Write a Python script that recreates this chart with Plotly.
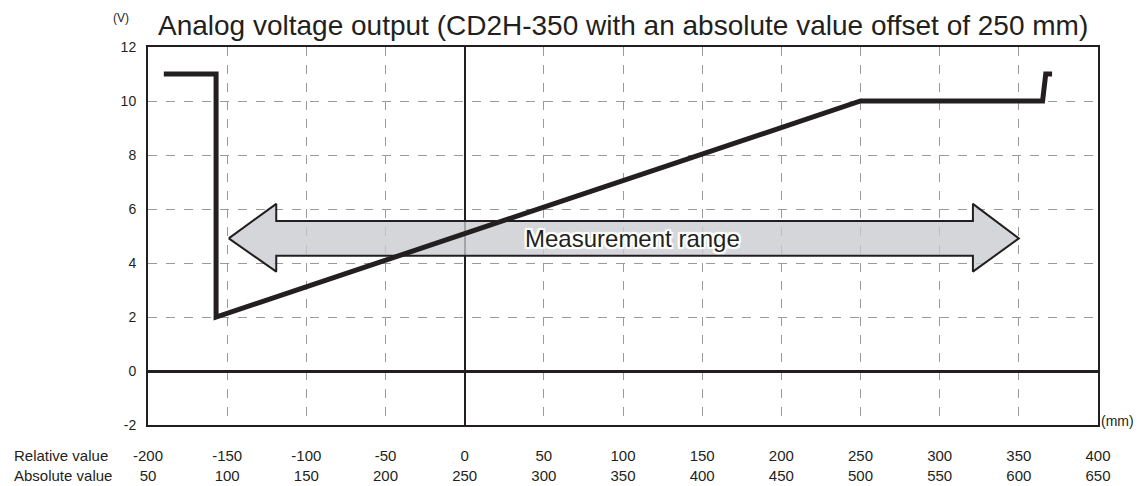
import plotly.graph_objects as go

# Data
line_x = [-190, -157, -157, 250, 365, 367, 371]
line_y = [11, 11, 2, 10, 10, 11, 11]

arrow_x = [-149, -119, -119, 321, 321, 350, 321, 321, -119, -119, -149]
arrow_y = [4.91, 6.19, 5.56, 5.56, 6.19, 4.91, 3.68, 4.27, 4.27, 3.68, 4.91]

rel_ticks = [-200, -150, -100, -50, 0, 50, 100, 150, 200, 250, 300, 350, 400]
abs_ticks = [50, 100, 150, 200, 250, 300, 350, 400, 450, 500, 550, 600, 650]
y_ticks = [-2, 0, 2, 4, 6, 8, 10, 12]

title_text = "Analog voltage output (CD2H-350 with an absolute value offset of 250 mm)"
DARK = "#231f20"
FONT = "Liberation Sans, Arial, sans-serif"

fig = go.Figure()
fig.add_trace(go.Scatter(x=arrow_x, y=arrow_y, mode="lines", fill="toself",
                         fillcolor="rgba(200,202,206,0.78)",
                         line=dict(color=DARK, width=2), hoverinfo="skip"))
fig.add_trace(go.Scatter(x=line_x, y=line_y, mode="lines",
                         line=dict(color=DARK, width=5), hoverinfo="skip"))

fig.add_annotation(x=106, y=4.91, text="Measurement range", showarrow=False,
                   font=dict(size=24, color=DARK, family=FONT,
                             shadow="2px 2px 1px white, -2px -2px 1px white, 2px -2px 1px white, -2px 2px 1px white, 0 2px 1px white, 0 -2px 1px white, 2px 0 1px white, -2px 0 1px white"))

# page body has an 8px margin at top/left, so the figure is 8px smaller on each axis
fig.update_layout(
    width=1137, height=478,
    margin=dict(l=140, r=47, t=39, b=61),
    plot_bgcolor="white", paper_bgcolor="white",
    showlegend=False,
    font=dict(family=FONT, color=DARK, size=15),
)
fig.update_xaxes(
    range=[-200, 400], tickmode="array", tickvals=rel_ticks,
    ticktext=[f"{r}<br>{a}" for r, a in zip(rel_ticks, abs_ticks)],
    showgrid=True, gridcolor="#9a9a9a", griddash="dash", gridwidth=1,
    zeroline=True, zerolinecolor=DARK, zerolinewidth=2,
    showline=True, linecolor=DARK, linewidth=2, mirror=True,
    ticks="", ticklabelstandoff=16, tickfont=dict(size=15, color=DARK),
    automargin=False,
)
fig.update_yaxes(
    range=[-2, 12], tickmode="array", tickvals=y_ticks,
    ticktext=[str(v) for v in y_ticks],
    showgrid=True, gridcolor="#9a9a9a", griddash="dash", gridwidth=1,
    zeroline=True, zerolinecolor=DARK, zerolinewidth=3,
    showline=True, linecolor=DARK, linewidth=2, mirror=True,
    ticks="", ticklabelstandoff=7, tickfont=dict(size=14, color=DARK),
    automargin=False,
)

fig.add_annotation(x=0.5, y=1, xref="paper", yref="paper", yanchor="bottom",
                   yshift=4, text=title_text, showarrow=False,
                   font=dict(size=28, color=DARK, family=FONT))
fig.add_annotation(x=-0.018, y=1, xref="paper", yref="paper", yanchor="middle",
                   xanchor="right", yshift=29, text="(V)", showarrow=False,
                   font=dict(size=12, color=DARK, family=FONT))
fig.add_annotation(x=1, y=0, xref="paper", yref="paper", yanchor="middle",
                   xanchor="left", xshift=1, yshift=4, text="(mm)", showarrow=False,
                   font=dict(size=14, color=DARK, family=FONT))
fig.add_annotation(x=-0.143, y=0, xref="paper", yref="paper", yanchor="middle",
                   xanchor="left", yshift=-30, text="Relative value", showarrow=False,
                   font=dict(size=15, color=DARK, family=FONT))
fig.add_annotation(x=-0.143, y=0, xref="paper", yref="paper", yanchor="middle",
                   xanchor="left", yshift=-50, text="Absolute value", showarrow=False,
                   font=dict(size=15, color=DARK, family=FONT))

fig.write_html("out.html")
